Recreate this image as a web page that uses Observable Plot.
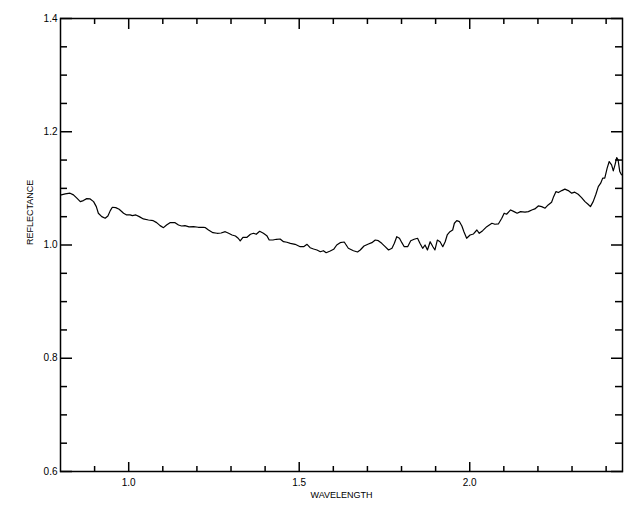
<!DOCTYPE html>
<html><head><meta charset="utf-8">
<script src="https://cdn.jsdelivr.net/npm/d3@7"></script>
<script src="https://cdn.jsdelivr.net/npm/@observablehq/plot@0.6"></script>
<style>body{margin:0;background:#fff}</style>
</head><body><div id="chart"></div>
<script>
const wavelength = [
0.802,0.814,0.828,0.838,0.848,0.858,0.867,0.877,0.887,0.897,0.905,0.911,0.921,0.931,0.939,0.946,0.952,0.962,0.972,0.985,
0.994,1.004,1.011,1.021,1.031,1.043,1.058,1.072,1.082,1.092,1.102,1.111,1.121,1.136,1.146,1.155,1.165,1.177,1.190,1.204,1.219,
1.225,1.234,1.247,1.259,1.271,1.283,1.293,1.303,1.313,1.321,1.327,1.335,1.347,1.357,1.366,1.374,1.384,1.395,1.405,1.412,
1.423,1.433,1.444,1.454,1.464,1.474,1.488,1.503,1.513,1.523,1.532,1.542,1.552,1.562,1.571,1.579,1.591,1.601,1.610,1.620,1.632,
1.644,1.659,1.671,1.679,1.690,1.703,1.713,1.723,1.732,1.742,1.752,1.762,1.772,1.779,1.786,1.794,1.801,1.808,1.818,1.827,
1.837,1.847,1.854,1.862,1.869,1.876,1.884,1.892,1.898,1.905,1.913,1.921,1.928,1.934,1.942,1.950,1.955,1.962,1.970,1.977,
1.983,1.991,2.001,2.011,2.021,2.028,2.038,2.050,2.065,2.074,2.084,2.094,2.101,2.108,2.120,2.130,2.139,2.149,2.162,2.172,
2.182,2.191,2.201,2.211,2.221,2.230,2.240,2.245,2.253,2.260,2.270,2.279,2.289,2.299,2.308,2.318,2.328,2.338,2.347,2.354,
2.362,2.370,2.377,2.384,2.390,2.396,2.403,2.409,2.416,2.421,2.426,2.431,2.435,2.440,2.445
];
const reflectance = [
1.0885,1.0903,1.0915,1.0885,1.0827,1.0766,1.0784,1.0819,1.0814,1.0766,1.0678,1.0561,1.0501,1.0473,1.0513,1.0607,1.0667,1.0660,1.0632,1.0561,
1.0531,1.0531,1.0519,1.0531,1.0501,1.0460,1.0442,1.0430,1.0395,1.0342,1.0306,1.0354,1.0395,1.0395,1.0354,1.0336,1.0342,1.0319,1.0324,1.0313,1.0313,
1.0306,1.0265,1.0218,1.0207,1.0212,1.0235,1.0207,1.0177,1.0159,1.0119,1.0071,1.0136,1.0136,1.0189,1.0207,1.0189,1.0242,1.0207,1.0165,1.0088,
1.0088,1.0101,1.0106,1.0058,1.0048,1.0030,1.0012,0.9970,0.9970,1.0012,0.9952,0.9929,0.9912,0.9881,0.9899,0.9864,0.9894,0.9924,1.0000,1.0041,1.0053,
0.9942,0.9899,0.9876,0.9912,0.9982,1.0018,1.0041,1.0088,1.0076,1.0030,0.9970,0.9912,0.9942,1.0030,1.0147,1.0119,1.0041,0.9970,0.9970,1.0076,
1.0101,1.0119,1.0030,0.9942,1.0000,0.9912,1.0058,0.9970,0.9912,1.0088,1.0058,0.9970,1.0058,1.0177,1.0235,1.0265,1.0384,1.0430,1.0412,1.0336,
1.0235,1.0119,1.0177,1.0195,1.0265,1.0207,1.0253,1.0324,1.0384,1.0366,1.0372,1.0473,1.0561,1.0543,1.0619,1.0589,1.0561,1.0589,1.0579,1.0589,
1.0619,1.0637,1.0690,1.0678,1.0650,1.0708,1.0756,1.0837,1.0943,1.0926,1.0961,1.0986,1.0961,1.0915,1.0933,1.0897,1.0837,1.0766,1.0720,1.0678,
1.0766,1.0897,1.1032,1.1092,1.1181,1.1181,1.1358,1.1474,1.1416,1.1310,1.1416,1.1545,1.1504,1.1297,1.1239
];
const xMajorTicks = [1.0, 1.5, 2.0];
const xMinorTicks = [0.9, 1.1, 1.2, 1.3, 1.4, 1.6, 1.7, 1.8, 1.9, 2.1, 2.2, 2.3, 2.4];
const yMajorTicks = [0.6, 0.8, 1.0, 1.2, 1.4];
const yMinorTicks = [0.65, 0.7, 0.75, 0.85, 0.9, 0.95, 1.05, 1.1, 1.15, 1.25, 1.3, 1.35];
const xLabel = "WAVELENGTH";
const yLabel = "REFLECTANCE";

const data = wavelength.map((w, i) => ({w, r: reflectance[i]}));
const fmt = d3.format(".1f");
const sw = 1.5;

const chart = Plot.plot({
  width: 640,
  height: 512,
  marginLeft: 60,
  marginRight: 18,
  marginTop: 18,
  marginBottom: 41,
  style: {fontFamily: "'Liberation Sans', Arial, sans-serif", fontSize: "10px", background: "white", color: "black"},
  x: {domain: [0.8, 2.448], axis: null},
  y: {domain: [0.6, 1.4], axis: null},
  marks: [
    Plot.line(data, {x: "w", y: "r", stroke: "black", strokeWidth: 1.2}),
    // inward ticks, bottom & top
    Plot.axisX(xMajorTicks, {anchor: "bottom", tickSize: -9, fill: "none", strokeWidth: sw, label: null}),
    Plot.axisX(xMinorTicks, {anchor: "bottom", tickSize: -5, fill: "none", strokeWidth: sw, label: null}),
    Plot.axisX(xMajorTicks, {anchor: "top", tickSize: -10, fill: "none", strokeWidth: sw, label: null}),
    Plot.axisX(xMinorTicks, {anchor: "top", tickSize: -5, fill: "none", strokeWidth: sw, label: null}),
    // inward ticks, left & right
    Plot.axisY(yMajorTicks, {anchor: "left", tickSize: -12, fill: "none", strokeWidth: sw, label: null}),
    Plot.axisY(yMinorTicks, {anchor: "left", tickSize: -7, fill: "none", strokeWidth: sw, label: null}),
    Plot.axisY(yMajorTicks, {anchor: "right", tickSize: -12, fill: "none", strokeWidth: sw, label: null}),
    Plot.axisY(yMinorTicks, {anchor: "right", tickSize: -8, fill: "none", strokeWidth: sw, label: null}),
    // tick labels
    Plot.axisX(xMajorTicks, {anchor: "bottom", tickSize: 0, tickPadding: 7, tickFormat: fmt, label: null}),
    Plot.axisY(yMajorTicks, {anchor: "left", tickSize: 0, tickPadding: 3, tickFormat: fmt, label: null}),
    // axis titles
    Plot.text([xLabel], {frameAnchor: "bottom", dy: 26, fontSize: 9, fill: "black"}),
    Plot.text([yLabel], {frameAnchor: "left", dx: -30, rotate: -90, fontSize: 9, fill: "black"}),
    Plot.frame({stroke: "black", strokeWidth: sw})
  ]
});
document.getElementById("chart").appendChild(chart);
</script>
</body></html>
